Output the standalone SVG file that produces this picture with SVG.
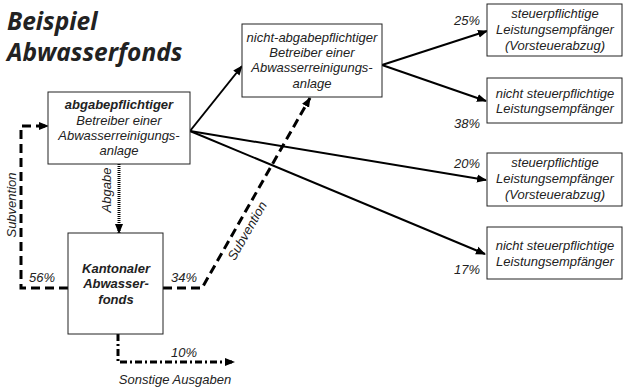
<svg xmlns="http://www.w3.org/2000/svg" width="624" height="388" viewBox="0 0 624 388">
<style>
.box{fill:#fff;stroke:#222;stroke-width:1}
.t{font-family:"Liberation Sans",Arial,sans-serif;font-size:13px;font-style:italic;fill:#222;text-anchor:middle}
.b{font-weight:bold}
.title{font-family:"Open Sans","Liberation Sans",sans-serif;font-size:24.5px;font-style:italic;font-weight:bold;fill:#222}
.solid{fill:none;stroke:#000;stroke-width:2}
.dash{fill:none;stroke:#000;stroke-width:3;stroke-dasharray:9 5}
.dot{fill:none;stroke:#000;stroke-width:3;stroke-dasharray:1 1}
.dashdot{fill:none;stroke:#000;stroke-width:3;stroke-dasharray:7 3 2 3}
</style>
<defs>
<marker id="ahs" viewBox="0 0 10 10" refX="9" refY="5" markerWidth="10" markerHeight="10" orient="auto" markerUnits="userSpaceOnUse">
<path d="M0,1 L10,5 L0,9 z" fill="#000"/>
</marker>
</defs>
<text class="title" x="7" y="30">Beispiel</text>
<text class="title" x="7" y="61">Abwasserfonds</text>
<g id="connectors">
<polyline class="dash" points="68,288 21,288 21,126 48,126" marker-end="url(#ahs)"/>
<line class="dot" x1="119" y1="164" x2="119" y2="233" marker-end="url(#ahs)"/>
<polyline class="dash" points="163,288 202,288 310,98" marker-end="url(#ahs)"/>
<line class="solid" x1="190" y1="131" x2="242" y2="66" marker-end="url(#ahs)"/>
<line class="solid" x1="190" y1="131" x2="486" y2="180" marker-end="url(#ahs)"/>
<line class="solid" x1="190" y1="131" x2="485" y2="254" marker-end="url(#ahs)"/>
<line class="solid" x1="382" y1="65" x2="487" y2="31" marker-end="url(#ahs)"/>
<line class="solid" x1="382" y1="65" x2="486" y2="101" marker-end="url(#ahs)"/>
<polyline class="dashdot" points="118,334 118,362 234,362" marker-end="url(#ahs)"/>
<text class="t" x="0" y="0" transform="translate(16,205) rotate(-90)">Subvention</text>
<text class="t" x="0" y="0" transform="translate(111,190) rotate(-90)">Abgabe</text>
<text class="t" x="0" y="0" transform="translate(251,233) rotate(-60)">Subvention</text>
<text class="t" x="42" y="282">56%</text>
<text class="t" x="184" y="282">34%</text>
<text class="t" x="184" y="357">10%</text>
<text class="t" x="175" y="384">Sonstige Ausgaben</text>
<text class="t" x="467" y="25">25%</text>
<text class="t" x="467" y="128">38%</text>
<text class="t" x="467" y="168">20%</text>
<text class="t" x="467" y="274">17%</text>
</g>
<g id="abgabepflichtig">
<rect class="box" x="48" y="92" width="142" height="72"/>
<text class="t b" x="119" y="109">abgabepflichtiger</text>
<text class="t" x="119" y="125">Betreiber einer</text>
<text class="t" x="119" y="140">Abwasserreinigungs-</text>
<text class="t" x="119" y="155">anlage</text>
</g>
<g id="fonds">
<rect class="box" x="68" y="233" width="95" height="101"/>
<text class="t b" x="116" y="273">Kantonaler</text>
<text class="t b" x="116" y="288">Abwasser-</text>
<text class="t b" x="116" y="304">fonds</text>
</g>
<g id="nicht-abgabepflichtig">
<rect class="box" x="242" y="24" width="140" height="73"/>
<text class="t" x="312" y="42">nicht-abgabepflichtiger</text>
<text class="t" x="312" y="57">Betreiber einer</text>
<text class="t" x="312" y="72">Abwasserreinigungs-</text>
<text class="t" x="312" y="88">anlage</text>
</g>
<g id="empf1">
<rect class="box" x="487" y="4" width="135" height="52"/>
<text class="t" x="555" y="18">steuerpflichtige</text>
<text class="t" x="555" y="34">Leistungsempfänger</text>
<text class="t" x="555" y="50">(Vorsteuerabzug)</text>
</g>
<g id="empf2">
<rect class="box" x="487" y="78" width="135" height="45"/>
<text class="t" x="555" y="98">nicht steuerpflichtige</text>
<text class="t" x="555" y="113">Leistungsempfänger</text>
</g>
<g id="empf3">
<rect class="box" x="487" y="153" width="135" height="53"/>
<text class="t" x="555" y="167">steuerpflichtige</text>
<text class="t" x="555" y="183">Leistungsempfänger</text>
<text class="t" x="555" y="199">(Vorsteuerabzug)</text>
</g>
<g id="empf4">
<rect class="box" x="487" y="227" width="135" height="52"/>
<text class="t" x="555" y="250">nicht steuerpflichtige</text>
<text class="t" x="555" y="266">Leistungsempfänger</text>
</g>
</svg>
